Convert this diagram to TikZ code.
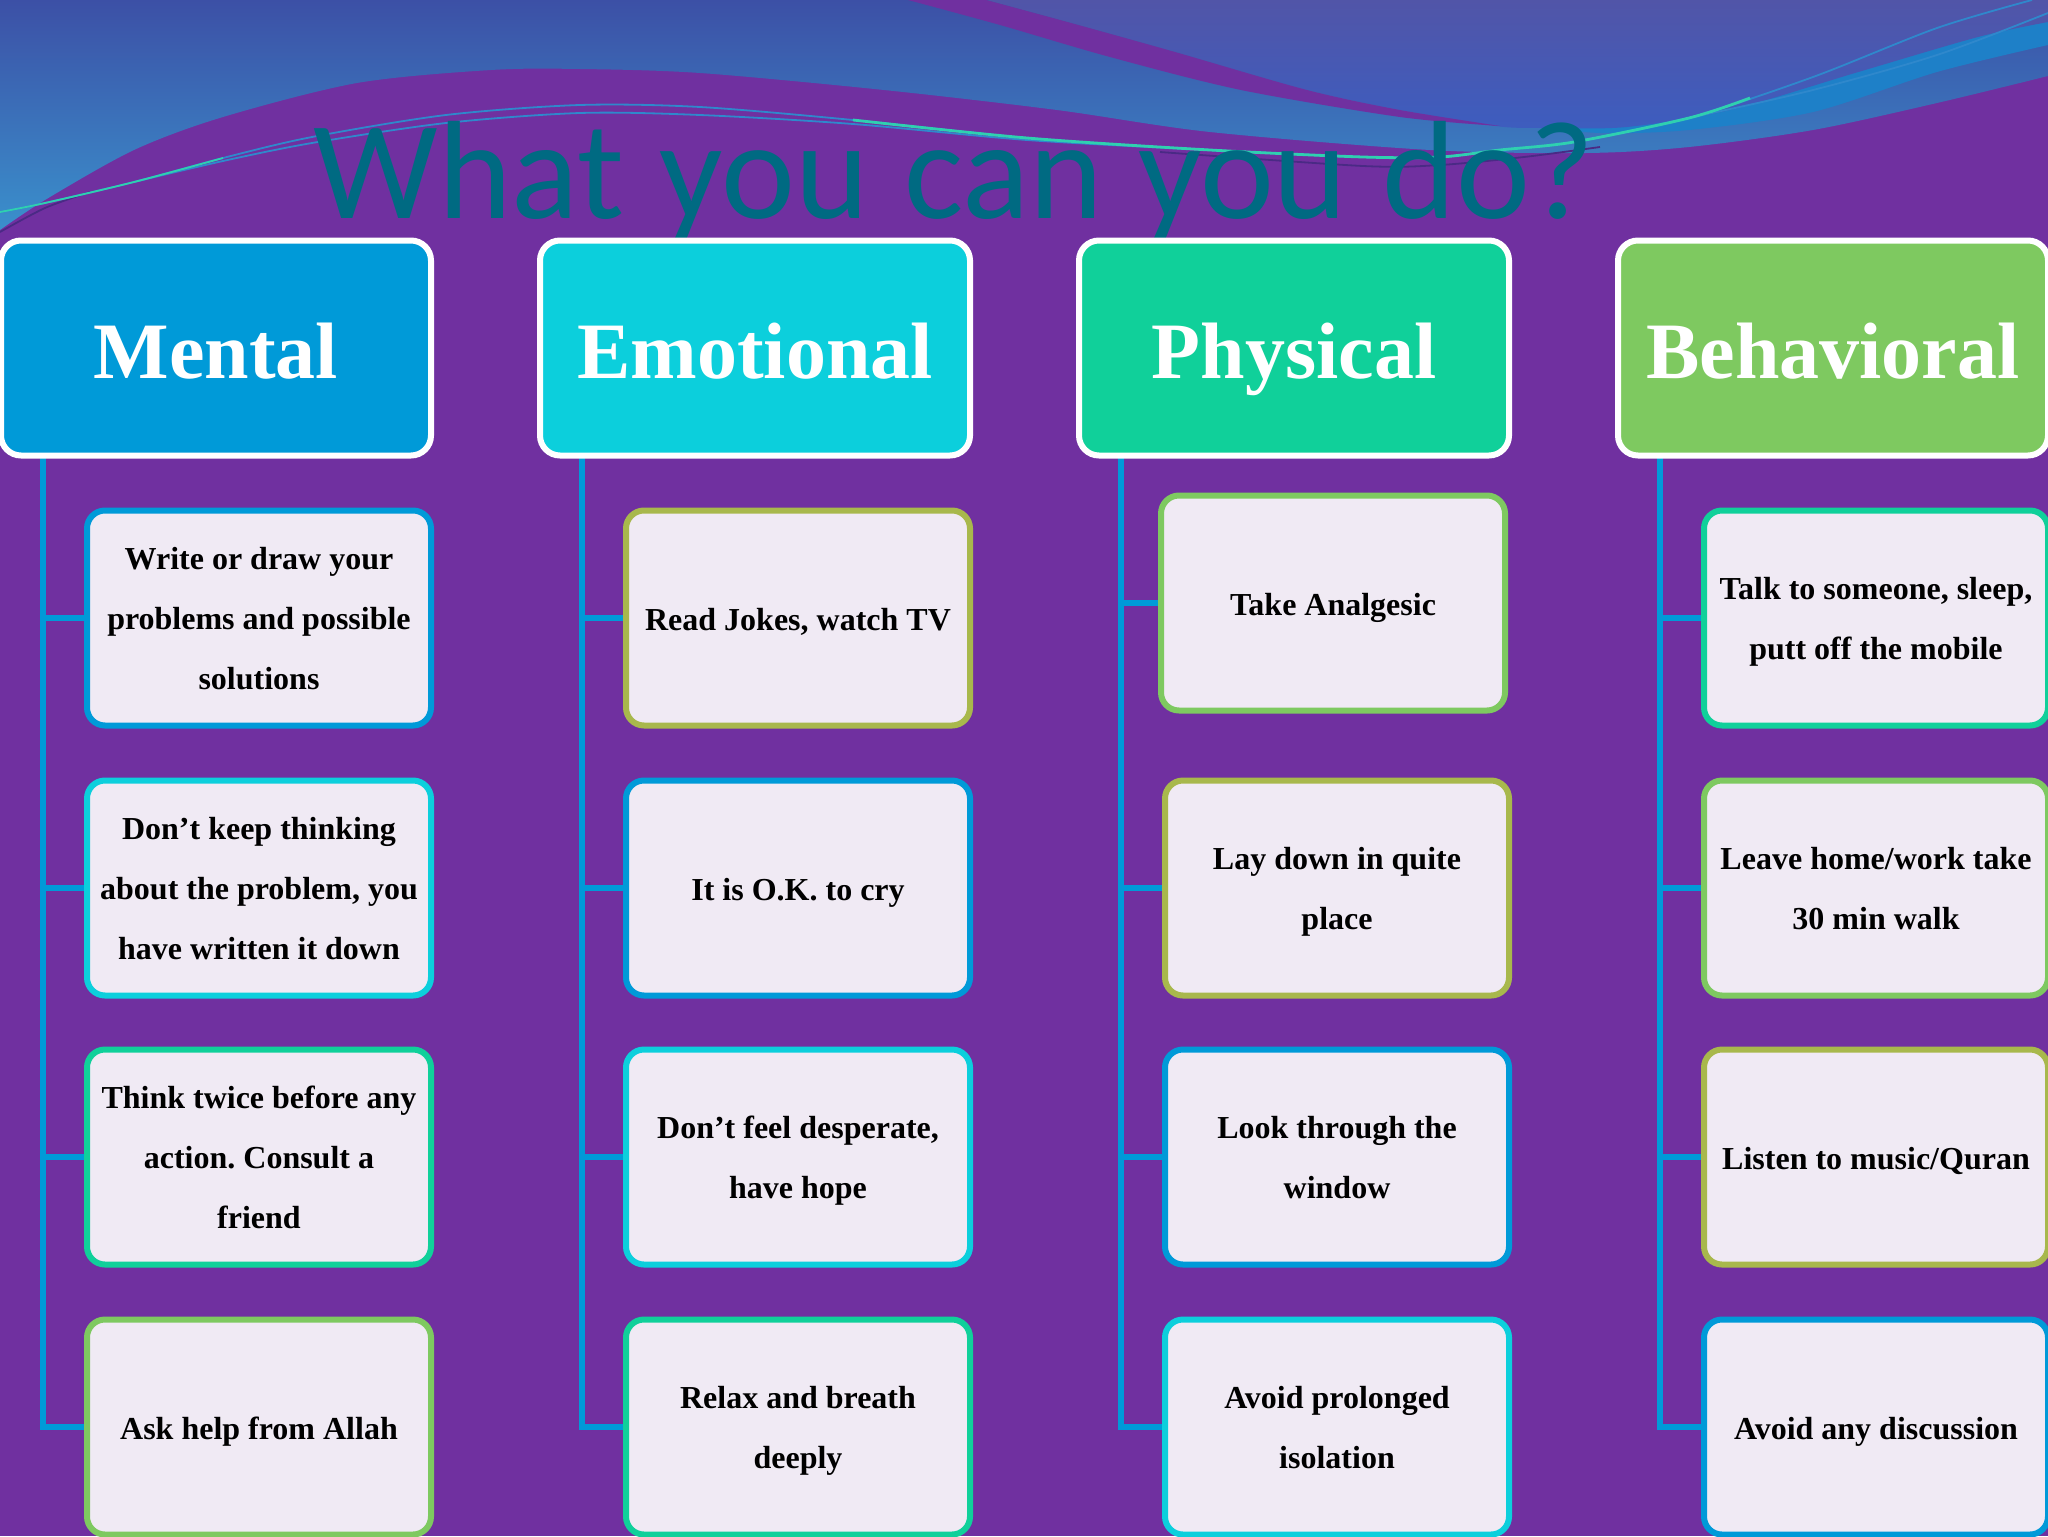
\documentclass[tikz,border=0pt]{standalone}
\usepackage{fontspec}
\setmainfont{Liberation Serif}
\newfontfamily\titlefont[WordSpace=1.12]{Carlito}
\usetikzlibrary{positioning}
\frenchspacing
\definecolor{slidepurple}{HTML}{7030A0}
\definecolor{cblue}{HTML}{009AD8}
\definecolor{ccyan}{HTML}{0CCFDC}
\definecolor{cgreen}{HTML}{10D09A}
\definecolor{clime}{HTML}{7EC960}
\definecolor{colive}{HTML}{A8B84C}
\definecolor{titleteal}{HTML}{006A82}
\definecolor{itemfill}{HTML}{F0EAF4}
\definecolor{bannertop}{HTML}{3C50A6}
\definecolor{bannerlow}{HTML}{3A90CC}
\definecolor{bandblue}{HTML}{1E80C8}
\definecolor{capetop}{HTML}{5155A8}
\definecolor{capelow}{HTML}{3D5DBF}
\definecolor{shadowline}{HTML}{4A2A85}
\definecolor{threadblue}{HTML}{2F88CC}
\definecolor{threadteal}{HTML}{2FD0B0}
\tikzset{%
  head/.style={draw=white, line width=3pt, rounded corners=10pt, minimum width=215pt,
    minimum height=107.5pt, text=white, text height=35pt, text depth=5pt,
    font=\fontsize{40}{44}\selectfont\bfseries},
  item/.style={fill=itemfill, line width=3pt, rounded corners=9pt, minimum width=172pt,
    minimum height=107.5pt, align=center, text=black, execute at begin node=\strut,
    text depth=9pt, font=\fontsize{16}{30}\selectfont\bfseries},
  wrapped/.style={text depth=0pt},
  link/.style={draw=cblue, line width=2.75pt},
  thread/.style={line width=0.9pt}
}

\begin{document}
\begin{tikzpicture}[x=0.5pt, y=-0.5pt]

  \useasboundingbox (0,0) rectangle (2048,1536);
  \clip (0,0) rectangle (2048,1536);
  \fill[slidepurple] (0,0) rectangle (2048,1536);

  % banner
  \path[top color=bannertop, bottom color=bannerlow] (0,0) -- (2048,0) -- (2048,76)
    -- plot[smooth] coordinates {(2048,76) (1937,103) (1813,130) (1689,147) (1586,153) (1430,150)
      (1210,132) (1057,110) (884,90) (700,73) (580,69) (491,70) (357,83) (223,117) (134,150) (45,200) (0,230)}
    -- cycle;
  \fill[bandblue] (1530,126) -- (2048,10)
    -- (2048,45) -- plot[smooth] coordinates {(2048,45) (1937,72) (1813,112) (1689,130) (1600,133) (1530,126)} -- cycle;
  \path[top color=capetop, bottom color=capelow] (986,0) -- (2048,0) -- (2048,22)
    -- plot[smooth] coordinates {(2048,22) (1978,37) (1855,73) (1730,110) (1627,127) (1545,128) (1495,126)
      (1400,110) (1307,90) (1175,52) (1071,23) (986,0)} -- cycle;
  \fill[slidepurple] plot[smooth] coordinates {(908,0) (1000,25) (1110,57) (1241,90) (1400,117) (1500,126)}
    -- plot[smooth] coordinates {(1500,126) (1400,110) (1307,90) (1175,52) (1071,23) (986,0)} -- cycle;

  % threads
  \draw[thread, draw=shadowline] plot[smooth] coordinates {(1160,152) (1363,166) (1440,165) (1524,157) (1600,147)};
  \draw[thread, draw=shadowline] plot[smooth] coordinates {(0,232) (45,208) (90,192)};
  \draw[thread, draw=threadblue] plot[smooth] coordinates {(134,182) (223,161) (312,143) (446,123) (580,113) (700,115)
    (853,124) (1027,140) (1210,150) (1363,157) (1440,157) (1500,150) (1574,142) (1689,118) (1813,90) (1937,55) (2048,13)};
  \draw[thread, draw=threadblue] plot[smooth] coordinates {(0,212) (45,203) (134,182) (223,158) (312,137) (446,115) (580,105)
    (700,107) (853,120) (1027,138) (1210,150) (1363,157) (1440,157) (1500,150) (1574,142) (1689,118) (1813,77) (1937,28) (2032,0)};
  \draw[thread, draw=threadteal] plot[smooth] coordinates {(0,212) (45,203) (134,182) (223,158)};
  \draw[thread, draw=threadteal, line width=1.4pt] plot[smooth] coordinates {(853,120) (1027,138) (1210,150) (1363,157)
    (1440,157) (1500,150) (1574,142) (1689,118) (1750,98)};

  \node[anchor=base west, text=titleteal, font=\titlefont\fontsize{70}{70}\selectfont, inner sep=0pt] (title) at (313,218) {What you can you do?};

  % column roots
  \coordinate (rootm) at (43,456);
  \coordinate (roote) at (582,456);
  \coordinate (rootp) at (1121,456);
  \coordinate (rootb) at (1660,456);

  \node[item, wrapped, draw=cblue] (m1) at (259,618) {Write or draw your\\problems and possible\\solutions};
  \node[item, wrapped, draw=ccyan] (m2) at (259,888) {Don’t keep thinking\\about the problem, you\\have written it down};
  \node[item, wrapped, draw=cgreen] (m3) at (259,1157) {Think twice before any\\action. Consult a\\friend};
  \node[item, draw=clime] (m4) at (259,1427) {Ask help from Allah};

  \node[item, draw=colive] (e1) at (798,618) {Read Jokes, watch TV};
  \node[item, draw=cblue] (e2) at (798,888) {It is O.K. to cry};
  \node[item, wrapped, draw=ccyan] (e3) at (798,1157) {Don’t feel desperate,\\have hope};
  \node[item, wrapped, draw=cgreen] (e4) at (798,1427) {Relax and breath\\deeply};

  \node[item, draw=clime] (p1) at (1333,603) {Take Analgesic};
  \node[item, wrapped, draw=colive] (p2) at (1337,888) {Lay down in quite\\place};
  \node[item, wrapped, draw=cblue] (p3) at (1337,1157) {Look through the\\window};
  \node[item, wrapped, draw=ccyan] (p4) at (1337,1427) {Avoid prolonged\\isolation};

  \node[item, wrapped, draw=cgreen] (b1) at (1876,618) {Talk to someone, sleep,\\putt off the mobile};
  \node[item, wrapped, draw=clime] (b2) at (1876,888) {Leave home/work take\\30 min walk};
  \node[item, draw=colive] (b3) at (1876,1157) {Listen to music/Quran};
  \node[item, draw=cblue] (b4) at (1876,1427) {Avoid any discussion};

  \draw[link] (rootm) |- (m4.west);
  \draw[link] (rootm |- m1.west) -- (m1.west);
  \draw[link] (rootm |- m2.west) -- (m2.west);
  \draw[link] (rootm |- m3.west) -- (m3.west);

  \draw[link] (roote) |- (e4.west);
  \draw[link] (roote |- e1.west) -- (e1.west);
  \draw[link] (roote |- e2.west) -- (e2.west);
  \draw[link] (roote |- e3.west) -- (e3.west);

  \draw[link] (rootp) |- (p4.west);
  \draw[link] (rootp |- p1.west) -- (p1.west);
  \draw[link] (rootp |- p2.west) -- (p2.west);
  \draw[link] (rootp |- p3.west) -- (p3.west);

  \draw[link] (rootb) |- (b4.west);
  \draw[link] (rootb |- b1.west) -- (b1.west);
  \draw[link] (rootb |- b2.west) -- (b2.west);
  \draw[link] (rootb |- b3.west) -- (b3.west);

  \node[head, fill=cblue] (mental) at (216,348) {Mental};
  \node[head, fill=ccyan] (emotional) at (755,348) {Emotional};
  \node[head, fill=cgreen] (physical) at (1294,348) {Physical};
  \node[head, fill=clime] (behavioral) at (1833,348) {Behavioral};

\end{tikzpicture}
\end{document}
